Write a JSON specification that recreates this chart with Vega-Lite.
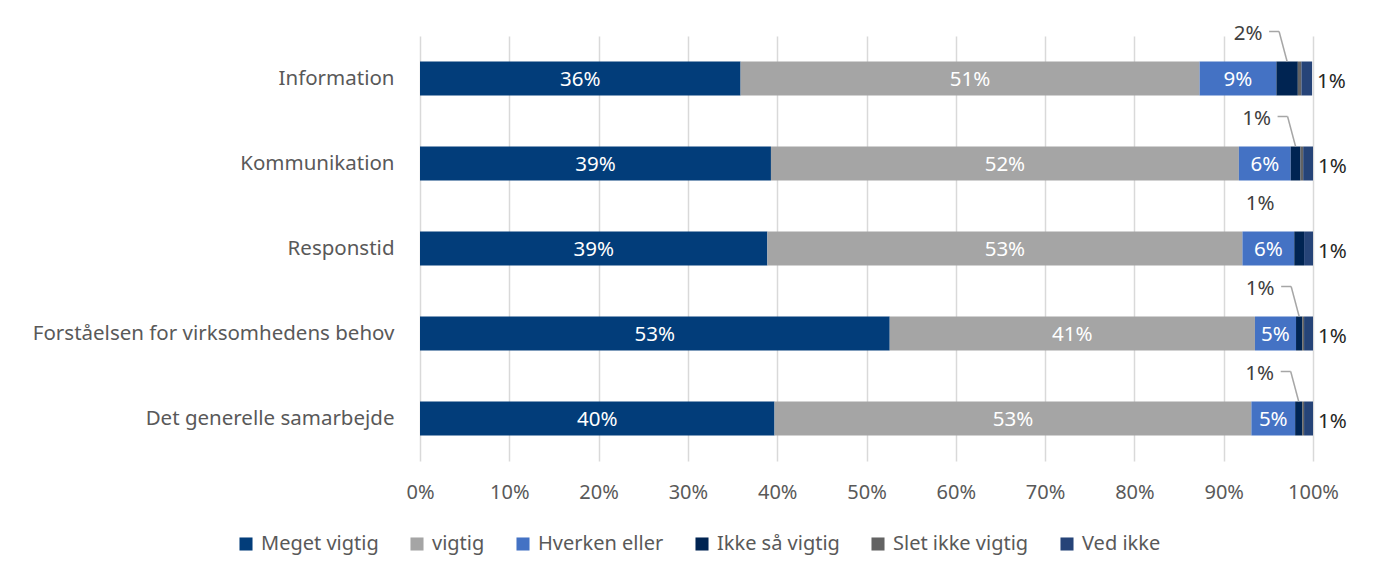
{
  "$schema": "https://vega.github.io/schema/vega-lite/v6.json",
  "autosize": "none",
  "width": 893,
  "height": 425,
  "padding": {"left": 420, "top": 36, "right": 63, "bottom": 122},
  "background": "white",
  "config": {
    "font": "Noto Sans",
    "view": {"stroke": null},
    "axis": {"labelFont": "Noto Sans", "labelColor": "#595959"}
  },
  "data": {
    "values": [
      {"q": "Information", "cat": "Meget vigtig", "k": 1, "v": 0.359},
      {"q": "Information", "cat": "vigtig", "k": 2, "v": 0.514},
      {"q": "Information", "cat": "Hverken eller", "k": 3, "v": 0.086},
      {"q": "Information", "cat": "Ikke så vigtig", "k": 4, "v": 0.024},
      {"q": "Information", "cat": "Slet ikke vigtig", "k": 5, "v": 0.004},
      {"q": "Information", "cat": "Ved ikke", "k": 6, "v": 0.012},
      {"q": "Kommunikation", "cat": "Meget vigtig", "k": 1, "v": 0.393},
      {"q": "Kommunikation", "cat": "vigtig", "k": 2, "v": 0.524},
      {"q": "Kommunikation", "cat": "Hverken eller", "k": 3, "v": 0.058},
      {"q": "Kommunikation", "cat": "Ikke så vigtig", "k": 4, "v": 0.011},
      {"q": "Kommunikation", "cat": "Slet ikke vigtig", "k": 5, "v": 0.003},
      {"q": "Kommunikation", "cat": "Ved ikke", "k": 6, "v": 0.011},
      {"q": "Responstid", "cat": "Meget vigtig", "k": 1, "v": 0.389},
      {"q": "Responstid", "cat": "vigtig", "k": 2, "v": 0.532},
      {"q": "Responstid", "cat": "Hverken eller", "k": 3, "v": 0.058},
      {"q": "Responstid", "cat": "Ikke så vigtig", "k": 4, "v": 0.011},
      {"q": "Responstid", "cat": "Slet ikke vigtig", "k": 5, "v": 0.0},
      {"q": "Responstid", "cat": "Ved ikke", "k": 6, "v": 0.010},
      {"q": "Forståelsen for virksomhedens behov", "cat": "Meget vigtig", "k": 1, "v": 0.526},
      {"q": "Forståelsen for virksomhedens behov", "cat": "vigtig", "k": 2, "v": 0.409},
      {"q": "Forståelsen for virksomhedens behov", "cat": "Hverken eller", "k": 3, "v": 0.046},
      {"q": "Forståelsen for virksomhedens behov", "cat": "Ikke så vigtig", "k": 4, "v": 0.007},
      {"q": "Forståelsen for virksomhedens behov", "cat": "Slet ikke vigtig", "k": 5, "v": 0.002},
      {"q": "Forståelsen for virksomhedens behov", "cat": "Ved ikke", "k": 6, "v": 0.010},
      {"q": "Det generelle samarbejde", "cat": "Meget vigtig", "k": 1, "v": 0.397},
      {"q": "Det generelle samarbejde", "cat": "vigtig", "k": 2, "v": 0.534},
      {"q": "Det generelle samarbejde", "cat": "Hverken eller", "k": 3, "v": 0.049},
      {"q": "Det generelle samarbejde", "cat": "Ikke så vigtig", "k": 4, "v": 0.008},
      {"q": "Det generelle samarbejde", "cat": "Slet ikke vigtig", "k": 5, "v": 0.002},
      {"q": "Det generelle samarbejde", "cat": "Ved ikke", "k": 6, "v": 0.010}
    ]
  },
  "transform": [
    {"stack": "v", "groupby": ["q"], "sort": [{"field": "k", "order": "ascending"}], "as": ["x0", "x1"]},
    {"calculate": "(datum.x0 + datum.x1) / 2", "as": "mid"}
  ],
  "encoding": {
    "y": {
      "field": "q",
      "type": "nominal",
      "sort": ["Information", "Kommunikation", "Responstid", "Forståelsen for virksomhedens behov", "Det generelle samarbejde"],
      "scale": {"paddingInner": 0.6, "paddingOuter": 0.3},
      "axis": {"title": null, "ticks": false, "domain": false, "labelFontSize": 20.5, "labelPadding": 26, "labelLimit": 500}
    }
  },
  "layer": [
    {
      "mark": {"type": "bar"},
      "encoding": {
        "x": {
          "field": "x0",
          "type": "quantitative",
          "scale": {"domain": [0, 1], "nice": false},
          "axis": {"title": null, "format": ".0%", "values": [0, 0.1, 0.2, 0.3, 0.4, 0.5, 0.6, 0.7, 0.8, 0.9, 1], "ticks": false, "domain": false, "grid": true, "gridColor": "#d9d9d9", "gridWidth": 1.5, "labelFontSize": 20, "labelPadding": 21, "labelFlush": false, "labelOverlap": false}
        },
        "x2": {"field": "x1"},
        "color": {
          "field": "cat",
          "type": "nominal",
          "sort": ["Meget vigtig", "vigtig", "Hverken eller", "Ikke så vigtig", "Slet ikke vigtig", "Ved ikke"],
          "scale": {
            "domain": ["Meget vigtig", "vigtig", "Hverken eller", "Ikke så vigtig", "Slet ikke vigtig", "Ved ikke"],
            "range": ["#023d7a", "#a5a5a5", "#4472c4", "#002452", "#636363", "#264478"]
          },
          "legend": {
            "title": null,
            "orient": "none",
            "direction": "horizontal",
            "legendX": -184,
            "legendY": 498,
            "symbolType": "square",
            "symbolSize": 170,
            "symbolStrokeWidth": 0,
            "labelFontSize": 20,
            "labelColor": "#595959",
            "labelFont": "Noto Sans",
            "columnPadding": 28,
            "symbolOffset": 0,
            "labelOffset": 5,
            "labelLimit": 300
          }
        }
      }
    },
    {
      "transform": [{"filter": "datum.k <= 3"}],
      "mark": {"type": "text", "color": "white", "fontSize": 20.5, "baseline": "middle", "dy": 1},
      "encoding": {
        "x": {"field": "mid", "type": "quantitative"},
        "text": {"field": "v", "type": "quantitative", "format": ".0%"}
      }
    },
    {
      "transform": [{"filter": "datum.k == 6"}],
      "mark": {"type": "text", "color": "#262626", "fontSize": 20.5, "baseline": "middle", "align": "left", "dx": 5, "dy": 3},
      "encoding": {
        "x": {"field": "x1", "type": "quantitative"},
        "text": {"field": "v", "type": "quantitative", "format": ".0%"}
      }
    },
    {
      "transform": [{"filter": "datum.k == 4"}],
      "mark": {"type": "text", "color": "#404040", "fontSize": 20.5, "baseline": "middle", "align": "center", "dx": -39, "dy": -45},
      "encoding": {
        "x": {"field": "mid", "type": "quantitative"},
        "text": {"field": "v", "type": "quantitative", "format": ".0%"}
      }
    },
    {
      "transform": [{"filter": "datum.k == 4 && datum.q != 'Responstid'"}],
      "mark": {"type": "rule", "color": "#a6a6a6", "strokeWidth": 1.5, "xOffset": -8, "x2Offset": -18, "yOffset": -47, "y2Offset": -47},
      "encoding": {
        "x": {"field": "mid", "type": "quantitative"},
        "x2": {"field": "mid"},
        "y2": {"field": "q"}
      }
    },
    {
      "transform": [{"filter": "datum.k == 4 && datum.q != 'Responstid'"}],
      "mark": {"type": "rule", "color": "#a6a6a6", "strokeWidth": 1.5, "xOffset": 0, "x2Offset": -8, "yOffset": -17, "y2Offset": -47},
      "encoding": {
        "x": {"field": "mid", "type": "quantitative"},
        "x2": {"field": "mid"},
        "y2": {"field": "q"}
      }
    }
  ]
}
